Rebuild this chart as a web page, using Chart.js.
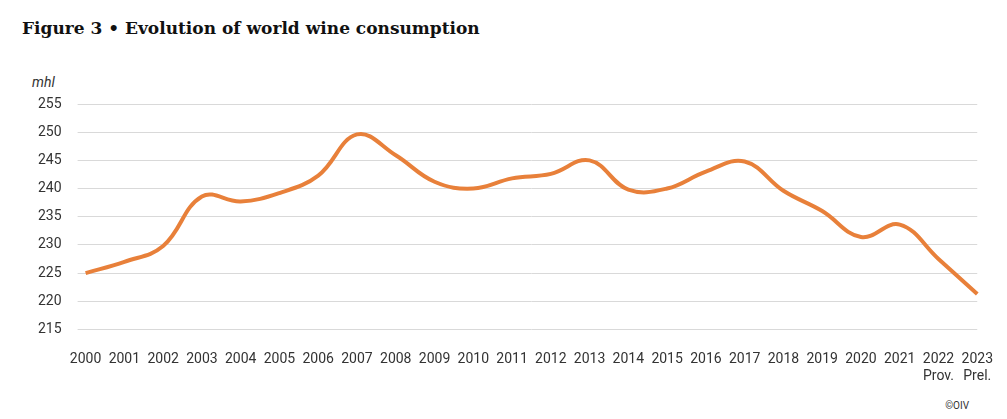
<!DOCTYPE html>
<html><head><meta charset="utf-8">
<script src="https://cdn.jsdelivr.net/npm/chart.js@4"></script>
<style>
body{margin:0;background:#fff;width:1007px;height:419px;position:relative;overflow:hidden}
#t{position:absolute;left:22px;top:18px;font:bold 17px "DejaVu Serif",serif;color:#111}
#u{position:absolute;left:32px;top:74px;font:italic 14px "Roboto",sans-serif;color:#333}
#c{position:absolute;right:38px;bottom:8px;font:10px "Roboto",sans-serif;color:#333}
canvas{position:absolute;left:0;top:0}
</style></head><body>
<div id="t">Figure 3 • Evolution of world wine consumption</div>
<div id="u">mhl</div>
<div id="c">©OIV</div>
<canvas id="chart" width="1007" height="419"></canvas>
<script>
const years = ['2000','2001','2002','2003','2004','2005','2006','2007','2008','2009','2010','2011',
  '2012','2013','2014','2015','2016','2017','2018','2019','2020','2021',['2022','Prov.'],['2023','Prel.']];
const consumption = [225, 227, 229.8, 238.6, 237.7, 239.2, 242.3, 249.6, 245.9, 241.2, 240, 241.8,
  242.6, 245, 239.8, 240, 243, 244.8, 239.6, 236, 231.4, 233.6, 227.5, 221.3];

new Chart(document.getElementById('chart'), {
  type: 'line',
  data: {
    labels: years,
    datasets: [{
      data: consumption,
      borderColor: '#E8803A',
      borderWidth: 4,
      pointRadius: 0,
      tension: 0.4,
      fill: false
    }]
  },
  options: {
    responsive: false,
    animation: false,
    layout: { padding: { top: 104, left: 22, right: 22, bottom: 20 } },
    plugins: { legend: { display: false }, tooltip: { enabled: false } },
    scales: {
      x: {
        grid: { display: false },
        border: { display: false },
        ticks: { color: '#333', font: { family: 'Roboto', size: 14 }, maxRotation: 0, autoSkip: false, padding: 14 }
      },
      y: {
        min: 215, max: 255,
        grid: { color: '#d9d9d9' },
        border: { display: false },
        ticks: { stepSize: 5, color: '#333', font: { family: 'Roboto', size: 14 }, padding: 16 }
      }
    }
  }
});
</script>
</body></html>
